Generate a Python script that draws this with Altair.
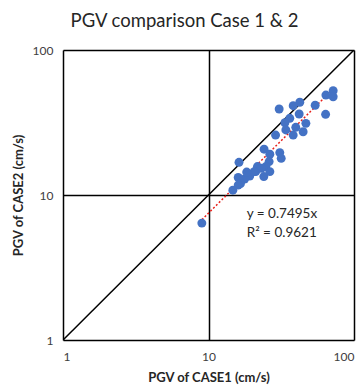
import altair as alt
import pandas as pd

case1 = [71.9, 64.1, 71.9, 63.8, 54.1, 42.4, 38.2, 30.6, 42.0, 36.2, 33.5, 46.7, 39.8, 34.0,
         44.7, 28.9, 24.1, 26.4, 30.9, 31.6, 16.2, 26.1, 21.7, 24.8, 21.1, 26.4, 24.0, 19.2,
         17.7, 16.0, 16.6, 14.7, 9.0, 23.1, 16.0, 20.6, 38.2, 18.3]
case2 = [52.4, 48.9, 47.6, 36.0, 41.6, 43.6, 41.3, 39.2, 36.2, 33.8, 31.5, 31.2, 29.3, 28.1,
         27.3, 25.9, 20.7, 19.1, 19.6, 17.9, 16.8, 17.0, 15.7, 15.7, 14.5, 14.5, 13.4, 13.5,
         12.9, 13.2, 12.0, 10.8, 6.4, 15.3, 11.7, 14.5, 25.9, 14.4]

trend_x = [9.0, 72.0]
trend_y = [6.75, 54.0]
diag_v = [1, 100]
ticks = [1, 10, 100]
eq_lines = ["y = 0.7495x", "R\u00b2 = 0.9621"]

pts = pd.DataFrame({"x": case1, "y": case2})
trend = pd.DataFrame({"x": trend_x, "y": trend_y})
diag = pd.DataFrame({"x": diag_v, "y": diag_v})
eq = pd.DataFrame({"x": [18.3, 18.3], "y": [7.4, 5.5], "t": eq_lines})

font = "Lato"
xs = alt.Scale(type="log", domain=[1, 100], nice=False)
ys = alt.Scale(type="log", domain=[1, 100], nice=False)

xax = alt.Axis(values=ticks, format="d", grid=True, gridColor="black", gridWidth=1.5,
               ticks=False, domain=False, labelFont=font, labelFontSize=12,
               labelColor="#404040", labelPadding=11,
               title="PGV of CASE1 (cm/s)", titleFont=font, titleFontSize=13,
               titleFontWeight="bold", titleColor="#262626", titlePadding=9)
yax = alt.Axis(values=ticks, format="d", grid=True, gridColor="black", gridWidth=1.5,
               ticks=False, domain=False, labelFont=font, labelFontSize=12,
               labelColor="#404040", labelPadding=10,
               title="PGV of CASE2 (cm/s)", titleFont=font, titleFontSize=13,
               titleFontWeight="bold", titleColor="#262626", titlePadding=7)

base_diag = alt.Chart(diag).mark_line(color="black", strokeWidth=1.5, clip=True).encode(
    x=alt.X("x:Q", scale=xs, axis=xax), y=alt.Y("y:Q", scale=ys, axis=yax))

points = alt.Chart(pts).mark_circle(size=80, color="#4472C4", opacity=1).encode(
    x=alt.X("x:Q", scale=xs), y=alt.Y("y:Q", scale=ys))

tline = alt.Chart(trend).mark_line(color="#E8201A", strokeWidth=1.5, strokeDash=[2, 2]).encode(
    x=alt.X("x:Q", scale=xs), y=alt.Y("y:Q", scale=ys))

text = alt.Chart(eq).mark_text(align="left", baseline="middle", font=font, fontSize=13.5,
                               color="#262626").encode(
    x=alt.X("x:Q", scale=xs), y=alt.Y("y:Q", scale=ys), text="t:N")

chart = alt.layer(base_diag, tline, points, text).properties(
    width=291, height=290,
    title=alt.TitleParams("PGV comparison Case 1 & 2", font=font, fontSize=18.5,
                          fontWeight="normal", color="#262626", anchor="middle",
                          frame="group", dx=-24, offset=14),
    autosize="none",
    padding={"left": 63, "top": 50, "right": 10, "bottom": 47},
).configure_view(stroke="black", strokeWidth=1.5).configure(background="white")

chart.save("out.html", embed_options={"renderer": "svg", "actions": False})
